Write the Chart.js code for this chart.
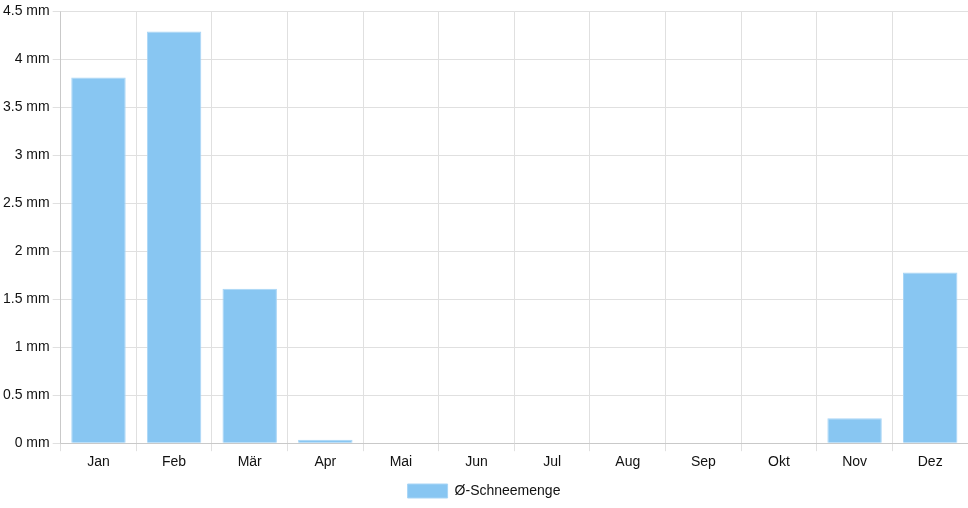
<!DOCTYPE html>
<html>
<head>
<meta charset="utf-8">
<script src="https://cdn.jsdelivr.net/npm/chart.js@4"></script>
<style>
  html, body { margin: 0; padding: 0; background: #fff; }
  #wrap { width: 968px; height: 508px; }
</style>
</head>
<body>
<div id="wrap"><canvas id="chart"></canvas></div>
<script>
const MONTHS = ['Jan', 'Feb', 'Mär', 'Apr', 'Mai', 'Jun', 'Jul', 'Aug', 'Sep', 'Okt', 'Nov', 'Dez'];
const SNOW = [3.81, 4.29, 1.61, 0.035, 0, 0, 0, 0, 0, 0, 0.26, 1.78];
const SERIES_LABEL = 'Ø-Schneemenge';
const Y_MAX = 4.5;
const Y_STEP = 0.5;

Chart.defaults.font.family = '"Liberation Sans", Arial, sans-serif';
Chart.defaults.font.size = 14;
Chart.defaults.color = '#111';

new Chart(document.getElementById('chart'), {
    type: 'bar',
    data: {
        labels: MONTHS,
        datasets: [{
            label: SERIES_LABEL,
            data: SNOW,
            backgroundColor: '#88c6f2',
            borderColor: '#a8d5f6',
            borderWidth: 1
        }]
    },
    options: {
        responsive: true,
        maintainAspectRatio: false,
        animation: false,
        layout: { padding: { top: 6 } },
        plugins: {
            legend: {
                position: 'bottom',
                labels: { boxWidth: 40, boxHeight: 14 }
            },
            tooltip: { enabled: false }
        },
        scales: {
            x: {
                grid: { color: '#e0e0e0' },
                ticks: { padding: 3 }
            },
            y: {
                min: 0,
                max: Y_MAX,
                grid: { color: '#e0e0e0' },
                ticks: {
                    stepSize: Y_STEP,
                    callback: v => v + ' mm'
                }
            }
        }
    }
});
</script>
</body>
</html>
